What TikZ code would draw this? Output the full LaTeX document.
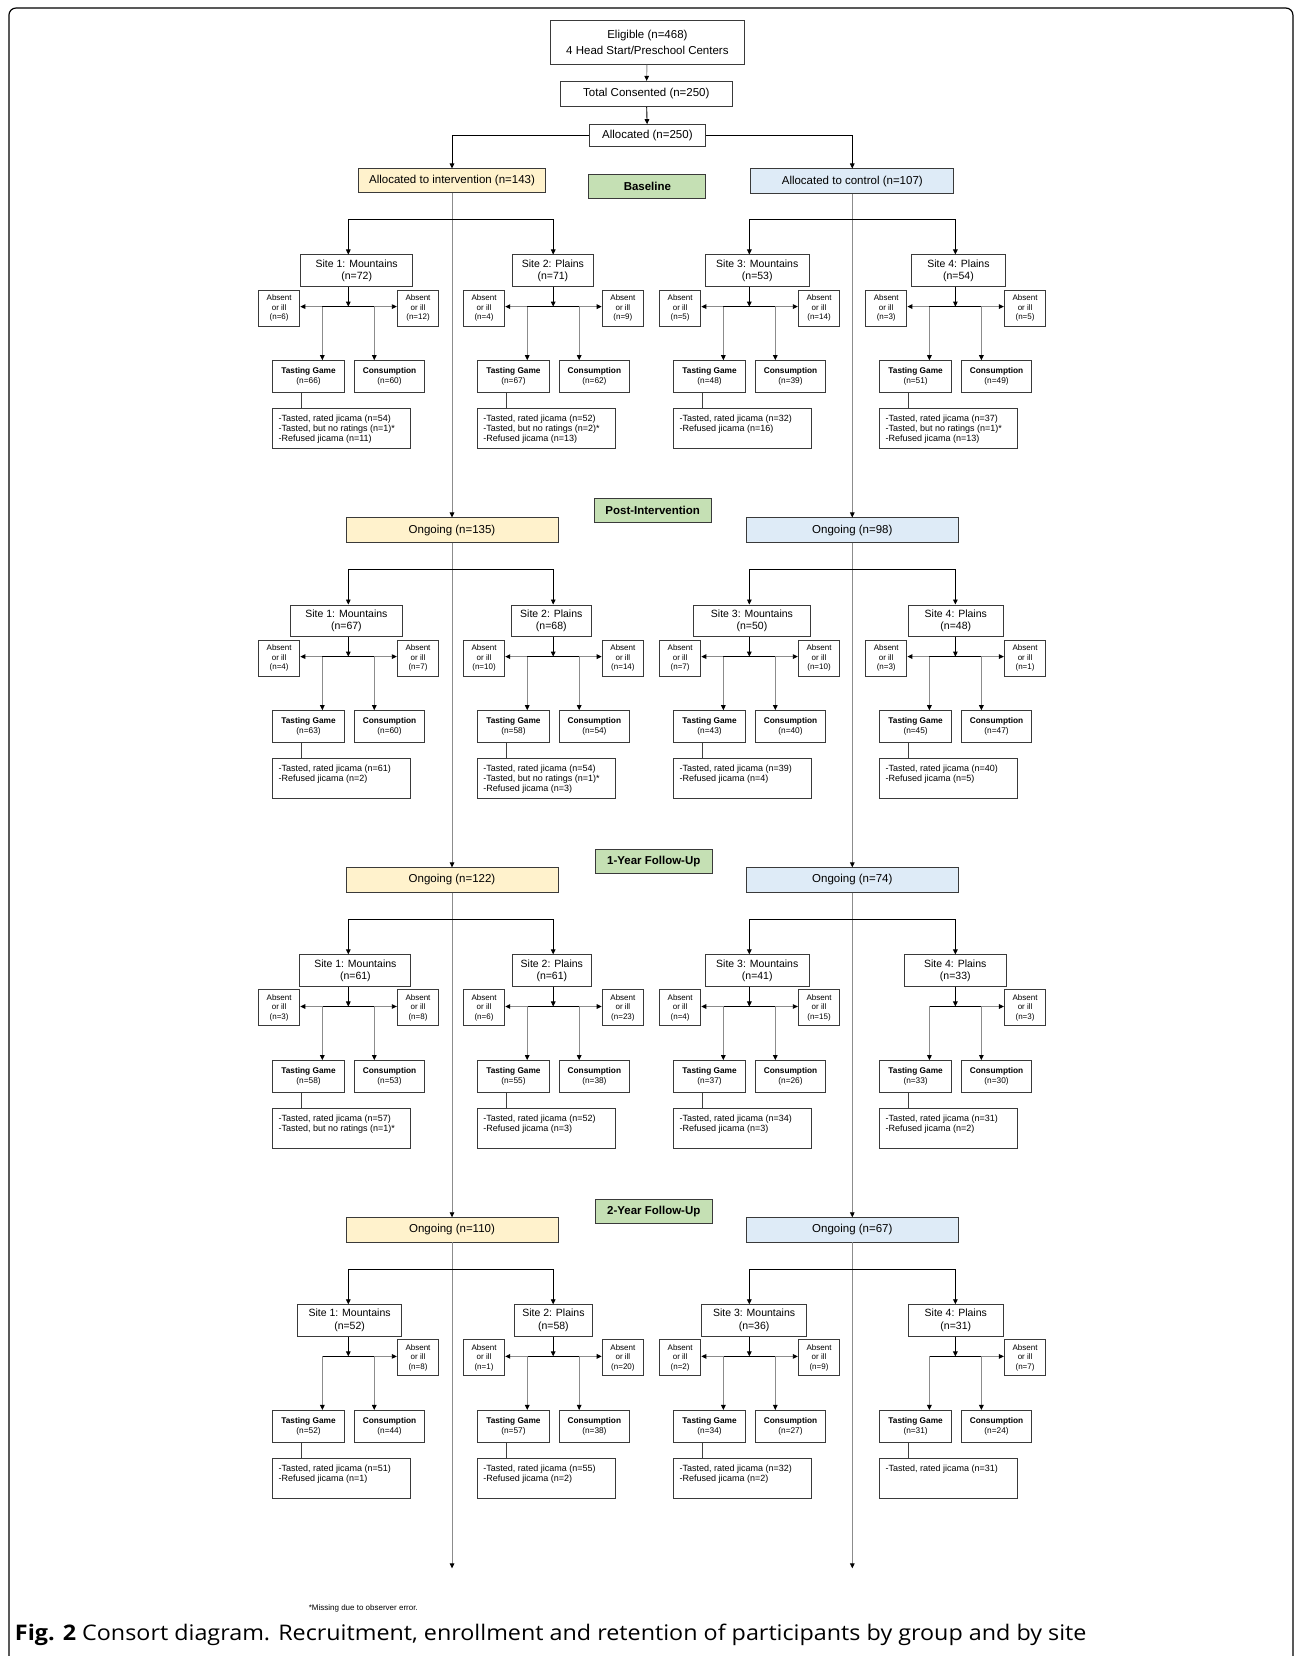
\documentclass[tikz,border=0pt]{standalone}
\usepackage{fontspec}
\setmainfont{Liberation Sans}
\newfontfamily\capfont[FakeStretch=1.085]{Open Sans}
\usetikzlibrary{arrows.meta}
\definecolor{intv}{HTML}{FFF2CC}
\definecolor{ctrl}{HTML}{DEEBF7}
\definecolor{hdr}{HTML}{C5E0B4}
\definecolor{bord}{HTML}{3A3A3A}
\definecolor{gline}{HTML}{8C8C8C}
\tikzset{
 box/.style={draw=bord, line width=0.9pt, inner sep=0pt, align=center},
 mainbox/.style={box, font=\fontsize{11.5}{16.5}\selectfont},
 hdrbox/.style={box, fill=hdr, minimum width=117pt, minimum height=23.5pt, font=\bfseries\fontsize{11.5}{13}\selectfont},
 ongbox/.style={mainbox, minimum width=212pt, minimum height=24.3pt},
 sitebox/.style={box, minimum height=31.7pt, font=\fontsize{10.5}{12.7}\selectfont},
 absbox/.style={box, minimum width=41.5pt, minimum height=36pt, font=\fontsize{8}{9.2}\selectfont},
 tgbox/.style={box, minimum width=72.6pt, minimum height=32pt, font=\fontsize{8.3}{9.6}\selectfont},
 resbox/.style={box, minimum width=138pt, minimum height=40pt},
 restext/.style={inner sep=0pt, align=left, font=\fontsize{9}{10}\selectfont},
 blk/.style={draw=black, line width=0.9pt},
 arr/.style={blk, -{Triangle[length=5pt,width=4.6pt]}},
 garr/.style={draw=gline, line width=0.9pt, -{Triangle[length=5pt,width=4.6pt,color=black]}},
 gl/.style={draw=black!75, line width=0.9pt},
 trunk/.style={draw=gline, line width=0.8pt, -{Triangle[length=5pt,width=4.6pt,color=black]}},
}
% site block: #1 id, #2 a, #3 b, #4 siteL, #5 siteR, #6 site text, #7 absL, #8 absR
\newcommand\sitebk[8]{%
 \coordinate (#1b) at (#2,#3);
 \node[sitebox, minimum width={(#5-#4)*1.0563pt}] (#1s) at ({(#4+#5)/2},{#3+48.8}) {#6};
 \draw[arr] (#1b) -- (#1b |- #1s.north);
 \coordinate (#1j) at (#2,{#3+82.7});
 \coordinate (#1jl) at ({#2-24.6},{#3+82.7});
 \coordinate (#1jr) at ({#2+24.6},{#3+82.7});
 \draw[arr] (#1s.south -| #1j) -- (#1j);
 \draw[blk] (#1jl) -- (#1jr);
 \ifx\relax#7\relax\else
  \node[absbox] (#1al) at ({#2-65.5},{#3+84}) {Absent\\or ill\\(n=#7)};
  \draw[garr] (#1jl) -- (#1jl -| #1al.east);
 \fi
 \ifx\relax#8\relax\else
  \node[absbox] (#1ar) at ({#2+66},{#3+84}) {Absent\\or ill\\(n=#8)};
  \draw[garr] (#1jr) -- (#1jr -| #1ar.west);
 \fi
}
% bottom of block: #1 id, #2 a, #3 b, #4 tasting n, #5 consumption n, #6 results lines
\newcommand\sitebot[6]{%
 \node[tgbox] (#1tg) at ({#2-37.65},{#3+149}) {\textbf{Tasting Game}\\(n=#4)};
 \node[tgbox, minimum width=70pt] (#1c) at ({#2+39},{#3+149}) {\textbf{Consumption}\\(n=#5)};
 \draw[garr] (#1jl) -- (#1jl |- #1tg.north);
 \draw[garr] (#1jr) -- (#1jr |- #1c.north);
 \node[resbox] (#1r) at ({#2-6.65},{#3+197.85}) {};
 \coordinate (#1rc) at ({#2-44.5},{#3+170});
 \draw[gl] (#1tg.south -| #1rc) -- (#1r.north -| #1rc);
 \node[restext, anchor=north west] (#1rt) at ([xshift=6.5pt,yshift=-7.5pt]#1r.north west) {#6};
}
\begin{document}
\begin{tikzpicture}[x=1.0563pt,y=-1.0563pt]
\useasboundingbox (0,0) rectangle (1226,1568);
\fill[white] (0,0) rectangle (1226,1568);
\draw[line width=1.2pt, rounded corners=7pt] (8.5,7.6) rectangle (1224.2,1580);

% top
\node[mainbox, minimum width={184*1.0563pt}, minimum height={42*1.0563pt}] (elig) at (613,40) {Eligible (n=468)\\4 Head Start/Preschool Centers};
\node[mainbox, minimum width={163*1.0563pt}, minimum height={24*1.0563pt}] (total) at (612,89) {Total Consented (n=250)};
\node[mainbox, minimum width={110*1.0563pt}, minimum height={21*1.0563pt}] (alloc) at (613,128.5) {Allocated (n=250)};
\draw[garr] (elig) -- (total);
\draw[arr] (total) -- (alloc);
\node[mainbox, fill=intv, minimum width={177*1.0563pt}, minimum height={22.5*1.0563pt}] (intv) at (428,171.2) {Allocated to intervention (n=143)};
\node[mainbox, fill=ctrl, minimum width={192*1.0563pt}, minimum height={23.5*1.0563pt}] (ctrl) at (807,171.7) {Allocated to control (n=107)};
\draw[arr] (alloc.west) -| (intv.north);
\draw[arr] (alloc.east) -| (ctrl.north);

% headers
\node[hdrbox] (h1) at (613,176.5) {Baseline};
\node[hdrbox] (h2) at (618,483.5) {Post-Intervention};
\node[hdrbox] (h3) at (619,815.5) {1-Year Follow-Up};
\node[hdrbox] (h4) at (619,1147) {2-Year Follow-Up};

% ongoing boxes
\node[ongbox, fill=intv] (o2i) at (428,{539-37.1}) {Ongoing (n=135)};
\node[ongbox, fill=ctrl] (o2c) at (807,{539-37.1}) {Ongoing (n=98)};
\node[ongbox, fill=intv] (o3i) at (428,{870.3-37.1}) {Ongoing (n=122)};
\node[ongbox, fill=ctrl] (o3c) at (807,{870.3-37.1}) {Ongoing (n=74)};
\node[ongbox, fill=intv] (o4i) at (428,{1201.6-37.1}) {Ongoing (n=110)};
\node[ongbox, fill=ctrl] (o4c) at (807,{1201.6-37.1}) {Ongoing (n=67)};
\coordinate (endi) at (428,1485);
\coordinate (endc) at (807,1485);

% trunks
\draw[trunk] (intv.south) -- (o2i.north);
\draw[trunk] (o2i.south) -- (o3i.north);
\draw[trunk] (o3i.south) -- (o4i.north);
\draw[trunk] (o4i.south) -- (endi);
\draw[trunk] (ctrl.south) -- (o2c.north);
\draw[trunk] (o2c.south) -- (o3c.north);
\draw[trunk] (o3c.south) -- (o4c.north);
\draw[trunk] (o4c.south) -- (endc);

% ===== Baseline =====
\sitebk{a1}{329.8}{207.6}{284.5}{391}{Site 1: Mountains\\(n=72)}{6}{12}
\sitebot{a1}{329.8}{207.6}{66}{60}{-Tasted, rated jicama (n=54)\\-Tasted, but no ratings (n=1)*\\-Refused jicama (n=11)}
\sitebk{a2}{523.8}{207.6}{485}{562}{Site 2: Plains\\(n=71)}{4}{9}
\sitebot{a2}{523.8}{207.6}{67}{62}{-Tasted, rated jicama (n=52)\\-Tasted, but no ratings (n=2)*\\-Refused jicama (n=13)}
\sitebk{a3}{709.5}{207.6}{668}{766}{Site 3: Mountains\\(n=53)}{5}{14}
\sitebot{a3}{709.5}{207.6}{48}{39}{-Tasted, rated jicama (n=32)\\-Refused jicama (n=16)}
\sitebk{a4}{904.6}{207.6}{863}{952}{Site 4: Plains\\(n=54)}{3}{5}
\sitebot{a4}{904.6}{207.6}{51}{49}{-Tasted, rated jicama (n=37)\\-Tasted, but no ratings (n=1)*\\-Refused jicama (n=13)}
\draw[blk] (a1b) -- (a2b);
\draw[blk] (a3b) -- (a4b);

% ===== Post-Intervention =====
\sitebk{b1}{329.8}{539}{275}{381}{Site 1: Mountains\\(n=67)}{4}{7}
\sitebot{b1}{329.8}{539}{63}{60}{-Tasted, rated jicama (n=61)\\-Refused jicama (n=2)}
\sitebk{b2}{523.8}{539}{484}{560}{Site 2: Plains\\(n=68)}{10}{14}
\sitebot{b2}{523.8}{539}{58}{54}{-Tasted, rated jicama (n=54)\\-Tasted, but no ratings (n=1)*\\-Refused jicama (n=3)}
\sitebk{b3}{709.5}{539}{657}{767}{Site 3: Mountains\\(n=50)}{7}{10}
\sitebot{b3}{709.5}{539}{43}{40}{-Tasted, rated jicama (n=39)\\-Refused jicama (n=4)}
\sitebk{b4}{904.6}{539}{860}{950}{Site 4: Plains\\(n=48)}{3}{1}
\sitebot{b4}{904.6}{539}{45}{47}{-Tasted, rated jicama (n=40)\\-Refused jicama (n=5)}
\draw[blk] (b1b) -- (b2b);
\draw[blk] (b3b) -- (b4b);

% ===== 1-Year =====
\sitebk{c1}{329.8}{870.3}{284}{389}{Site 1: Mountains\\(n=61)}{3}{8}
\sitebot{c1}{329.8}{870.3}{58}{53}{-Tasted, rated jicama (n=57)\\-Tasted, but no ratings (n=1)*}
\sitebk{c2}{523.8}{870.3}{485}{560}{Site 2: Plains\\(n=61)}{6}{23}
\sitebot{c2}{523.8}{870.3}{55}{38}{-Tasted, rated jicama (n=52)\\-Refused jicama (n=3)}
\sitebk{c3}{709.5}{870.3}{668}{766}{Site 3: Mountains\\(n=41)}{4}{15}
\sitebot{c3}{709.5}{870.3}{37}{26}{-Tasted, rated jicama (n=34)\\-Refused jicama (n=3)}
\sitebk{c4}{904.6}{870.3}{856}{953}{Site 4: Plains\\(n=33)}{}{3}
\sitebot{c4}{904.6}{870.3}{33}{30}{-Tasted, rated jicama (n=31)\\-Refused jicama (n=2)}
\draw[blk] (c1b) -- (c2b);
\draw[blk] (c3b) -- (c4b);

% ===== 2-Year =====
\sitebk{d1}{329.8}{1201.6}{282}{380}{Site 1: Mountains\\(n=52)}{}{8}
\sitebot{d1}{329.8}{1201.6}{52}{44}{-Tasted, rated jicama (n=51)\\-Refused jicama (n=1)}
\sitebk{d2}{523.8}{1201.6}{487}{561}{Site 2: Plains\\(n=58)}{1}{20}
\sitebot{d2}{523.8}{1201.6}{57}{38}{-Tasted, rated jicama (n=55)\\-Refused jicama (n=2)}
\sitebk{d3}{709.5}{1201.6}{664}{764}{Site 3: Mountains\\(n=36)}{2}{9}
\sitebot{d3}{709.5}{1201.6}{34}{27}{-Tasted, rated jicama (n=32)\\-Refused jicama (n=2)}
\sitebk{d4}{904.6}{1201.6}{860}{950}{Site 4: Plains\\(n=31)}{}{7}
\sitebot{d4}{904.6}{1201.6}{31}{24}{-Tasted, rated jicama (n=31)}
\draw[blk] (d1b) -- (d2b);
\draw[blk] (d3b) -- (d4b);

% footnote and caption
\node[font=\fontsize{8}{9}\selectfont, inner sep=0pt] (fn) at (344,1523) {*Missing due to observer error.};
\node[anchor=base west, inner sep=0pt, font=\capfont\fontsize{21.5}{24}\selectfont] (cap) at (14,1553) {\textbf{Fig. 2} Consort diagram. Recruitment, enrollment and retention of participants by group and by site};
\end{tikzpicture}
\end{document}
